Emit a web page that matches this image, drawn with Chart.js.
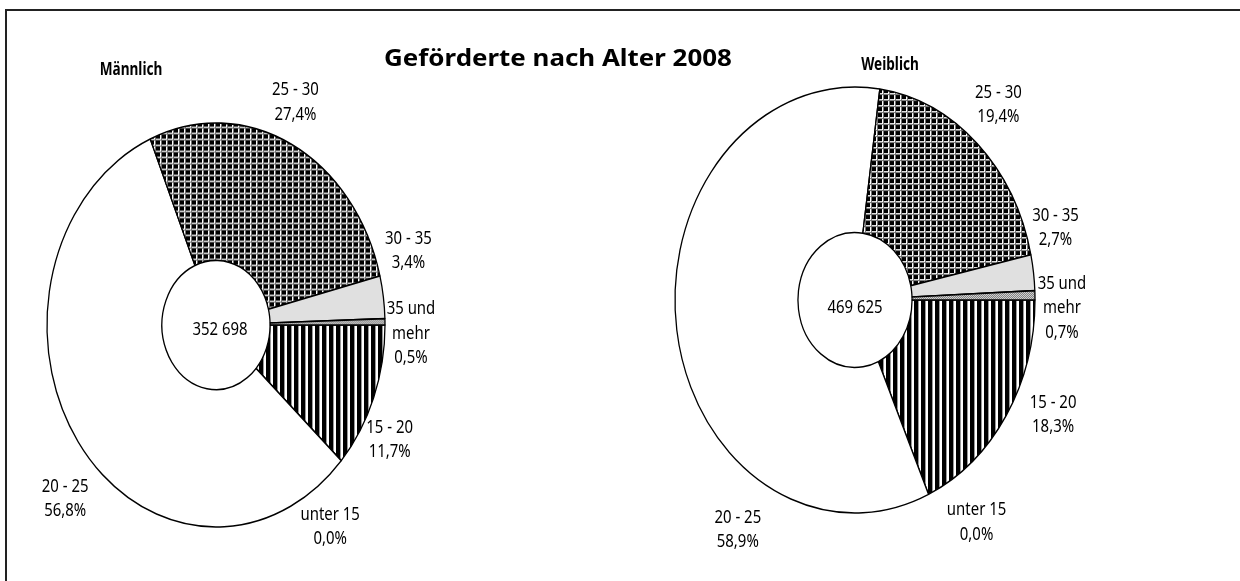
<!DOCTYPE html>
<html>
<head>
<meta charset="utf-8">
<script src="https://cdn.jsdelivr.net/npm/chart.js@4/dist/chart.umd.min.js"></script>
<style>
  body { margin: 0; background: #fff; }
  #wrap { position: relative; width: 1240px; height: 581px; overflow: hidden; background: #fff; }
  #frame { position: absolute; left: 5px; top: 9px; width: 1300px; height: 700px;
           border-left: 2px solid #222; border-top: 2px solid #222; }
  canvas { position: absolute; top: 0; }
  .txt { position: absolute; font-family: 'Noto Sans', sans-serif; font-weight: bold; color: #000;
         white-space: nowrap; line-height: 1; }
</style>
</head>
<body>
<div id="wrap">
  <div id="frame"></div>
  <canvas id="male" width="620" height="581" style="left:0"></canvas>
  <canvas id="female" width="620" height="581" style="left:620px"></canvas>
  <div class="txt" style="left:558px; top:57px; font-size:24px; transform: translate(-50%, -50%) scaleX(1.08);">Geförderte nach Alter 2008</div>
  <div class="txt" style="left:131px; top:68px; font-size:17px; transform: translate(-50%, -50%) scaleX(0.8);">Männlich</div>
  <div class="txt" style="left:890px; top:63px; font-size:17px; transform: translate(-50%, -50%) scaleX(0.8);">Weiblich</div>
</div>
<script>
// age groups, clockwise from 3 o'clock
const categories = ['15 - 20', 'unter 15', '20 - 25', '25 - 30', '30 - 35', '35 und mehr'];
const maleShare = [11.7, 0.0, 56.8, 27.4, 3.4, 0.5];
const femaleShare = [18.3, 0.0, 58.9, 19.4, 2.7, 0.7];
const maleTotal = '352 698';
const femaleTotal = '469 625';

const labelFont = "18px 'Noto Sans', sans-serif";
const labelSqueeze = 0.83;
const lineH = 24.5;

function tile(w, h, draw) {
  const c = document.createElement('canvas');
  c.width = w; c.height = h;
  draw(c.getContext('2d'));
  return c;
}
const tiles = {
  grid: tile(6, 6, g => {
    g.fillStyle = '#fff'; g.fillRect(0, 0, 6, 6);
    g.fillStyle = '#6e6e6e'; g.fillRect(5, 0, 1, 6); g.fillRect(0, 5, 6, 1);
    g.fillStyle = '#000'; g.fillRect(0, 0, 4, 4);
  }),
  stripes: tile(7, 1, g => {
    g.fillStyle = '#fff'; g.fillRect(0, 0, 7, 1);
    g.fillStyle = '#000'; g.fillRect(0, 0, 4, 1);
    g.fillStyle = '#999'; g.fillRect(4, 0, 1, 1);
  }),
  dots: tile(2, 2, g => {
    g.fillStyle = '#ddd'; g.fillRect(0, 0, 2, 2);
    g.fillStyle = '#777'; g.fillRect(0, 0, 1, 1); g.fillRect(1, 1, 1, 1);
  })
};

// patterns get an inverse vertical scale so they stay square inside the stretched ring
function fills(k) {
  const ctx = document.createElement('canvas').getContext('2d');
  const pat = t => {
    const p = ctx.createPattern(t, 'repeat');
    p.setTransform(new DOMMatrix([1, 0, 0, 1 / k, 0, 0]));
    return p;
  };
  return [pat(tiles.stripes), '#ffffff', '#ffffff', pat(tiles.grid), '#e0e0e0', pat(tiles.dots)];
}

function fmt(v) {
  return v.toFixed(1).replace('.', ',') + '%';
}

function squeezedText(ctx, t, x, y) {
  ctx.save();
  ctx.translate(x, y);
  ctx.scale(labelSqueeze, 1);
  ctx.fillText(t, 0, 0);
  ctx.restore();
}

// Excel draws the pies as ellipses: stretch the ring vertically around its centre
const stretch = {
  id: 'stretch',
  beforeDatasetsDraw(chart, args, opts) {
    const a = chart.getDatasetMeta(0).data[0];
    const ctx = chart.ctx;
    ctx.save();
    ctx.translate(a.x, a.y);
    ctx.scale(1, opts.k);
    ctx.translate(-a.x, -a.y);
  },
  afterDatasetsDraw(chart) {
    chart.ctx.restore();
  }
};

const ringLabels = {
  id: 'ringLabels',
  afterDraw(chart, args, opts) {
    const ctx = chart.ctx;
    const meta = chart.getDatasetMeta(0);
    const values = chart.data.datasets[0].data;
    ctx.save();
    ctx.fillStyle = '#000';
    ctx.font = labelFont;
    ctx.textAlign = 'center';
    ctx.textBaseline = 'middle';
    meta.data.forEach((arc, i) => {
      const p = arc.getProps(['x', 'y', 'startAngle', 'endAngle', 'outerRadius']);
      const a = (p.startAngle + p.endAngle) / 2;
      const ex = p.x + p.outerRadius * Math.cos(a);
      const ey = p.y + opts.k * p.outerRadius * Math.sin(a);
      const lines = chart.data.labels[i].replace(' und ', ' und\n').split('\n');
      lines.push(fmt(values[i]));
      const cx = ex + opts.nudge[i][0];
      const cy = ey + opts.nudge[i][1];
      lines.forEach((t, j) => squeezedText(ctx, t, cx, cy + (j - (lines.length - 1) / 2) * lineH));
    });
    const c = meta.data[0];
    squeezedText(ctx, opts.total, c.x + opts.totalAt[0], c.y + opts.totalAt[1]);
    ctx.restore();
  }
};

function ring(id, values, total, cfg) {
  return new Chart(document.getElementById(id), {
    type: 'doughnut',
    plugins: [stretch, ringLabels],
    data: {
      labels: categories,
      datasets: [{
        data: values,
        backgroundColor: fills(cfg.k),
        borderColor: '#000',
        borderWidth: 1.3,
        clip: false
      }]
    },
    options: {
      responsive: false,
      animation: false,
      events: [],
      rotation: 90,
      radius: cfg.radius,
      cutout: cfg.cutout,
      layout: { padding: cfg.padding },
      plugins: {
        legend: { display: false },
        tooltip: { enabled: false },
        stretch: { k: cfg.k },
        ringLabels: { k: cfg.k, nudge: cfg.nudge, total: total, totalAt: cfg.totalAt }
      }
    }
  });
}

ring('male', maleShare, maleTotal, {
  k: 1.195, radius: 169, cutout: '32%',
  padding: { left: 0, right: 188, top: 69, bottom: 0 },
  nudge: [[16, 42], [-11, 66], [-13, 57], [4, -42], [25, -46], [26, 12]],
  totalAt: [4, 5]
});

ring('female', femaleShare, femaleTotal, {
  k: 1.183, radius: 180, cutout: '31.7%',
  padding: { left: 0, right: 150, top: 19, bottom: 0 },
  nudge: [[47, -1], [48, 28], [61, 200], [21, -39], [22, -45], [27, 13]],
  totalAt: [0, 8]
});
</script>
</body>
</html>
